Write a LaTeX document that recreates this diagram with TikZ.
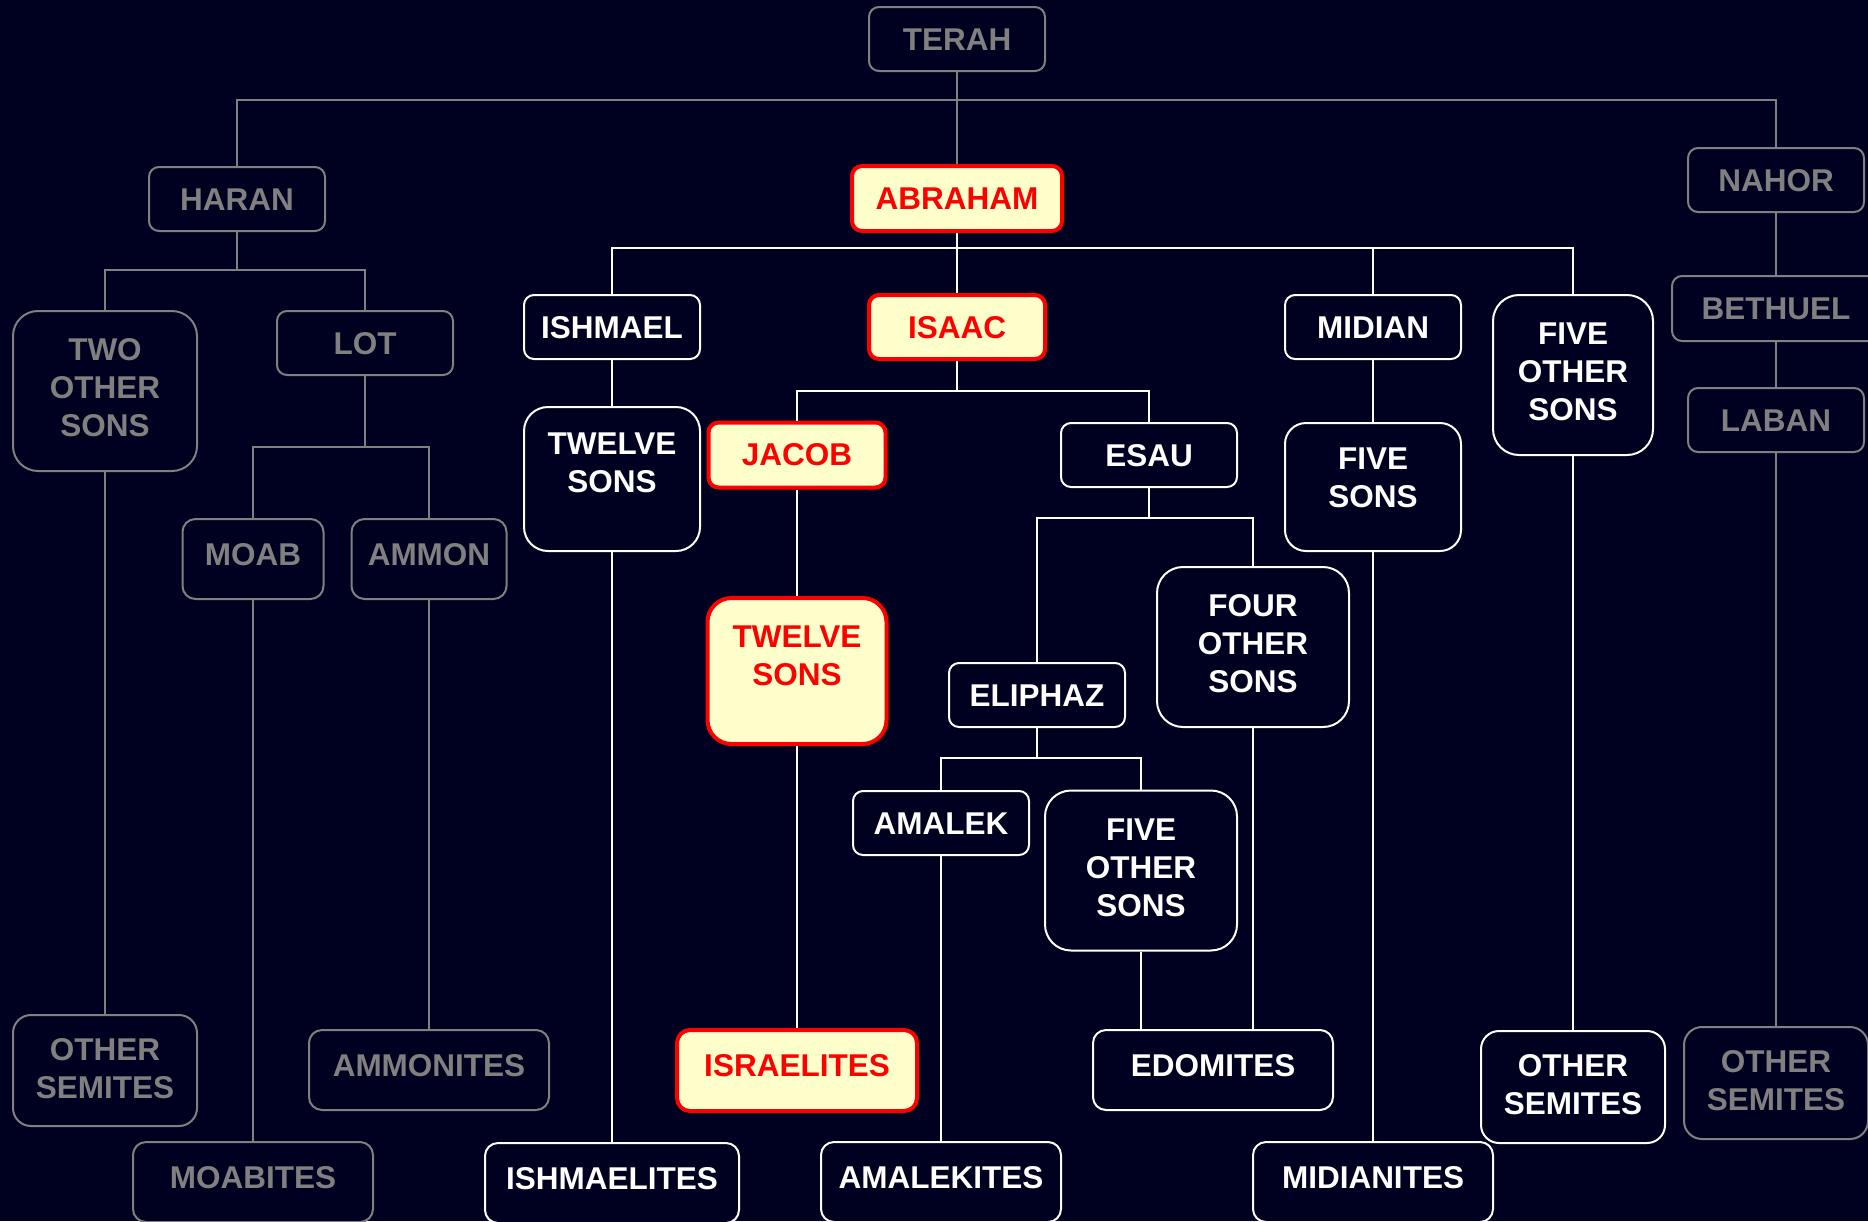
\documentclass[tikz,border=0pt]{standalone}
\usepackage{fontspec}
\setmainfont{Liberation Sans}
\usepackage{tikz}

\definecolor{navy}{RGB}{0,0,32}
\definecolor{famgray}{RGB}{128,128,128}
\definecolor{cream}{RGB}{255,255,204}

\begin{document}
\begin{tikzpicture}[x=1pt, y=-1pt,
        person/.style={rectangle, inner sep=0pt, align=center,
          font=\fontsize{31.5}{38}\selectfont\bfseries},
        boxsize/.style n args={4}{text width=#1, text height=#2, text depth=#3, rounded corners=#4},
        fadedbox/.style={person, draw=famgray, fill=navy, text=famgray, line width=2pt},
        kinbox/.style={person, draw=white, fill=navy, text=white, line width=2pt},
        chosenbox/.style={person, draw=red, fill=cream, text=red, line width=4pt},
        fadedline/.style={draw=famgray, line width=2pt},
        kinline/.style={draw=white, line width=2pt}]
      \useasboundingbox (0,0) rectangle (1868,1221);
      \fill[navy] (0,0) rectangle (1868,1221);

      % Terah and his sons
      \node[fadedbox,boxsize={176pt}{43pt}{21pt}{10pt}]  (terah)  at (957,39)   {TERAH};
      \node[fadedbox,boxsize={176pt}{43pt}{21pt}{10pt}]  (haran)  at (237,199)  {HARAN};
      \node[chosenbox,boxsize={210pt}{43pt}{22pt}{10pt}] (abraham) at (957,198.5) {ABRAHAM};
      \node[fadedbox,boxsize={176pt}{43pt}{21pt}{10pt}]  (nahor)  at (1776,180) {NAHOR};

      % line of Haran
      \node[fadedbox,boxsize={184pt}{49pt}{111pt}{25pt}] (twoother) at (105,391) {TWO\\OTHER\\SONS};
      \node[fadedbox,boxsize={176pt}{43pt}{21pt}{10pt}]  (lot)    at (365,343)  {LOT};
      \node[fadedbox,boxsize={141pt}{46pt}{34pt}{13pt}]  (moab)   at (253,559)  {MOAB};
      \node[fadedbox,boxsize={155pt}{46pt}{34pt}{13pt}]  (ammon)  at (429,559)  {AMMON};
      \node[fadedbox,boxsize={184pt}{45pt}{66pt}{18pt}]  (semitesL) at (105,1070.5) {OTHER\\SEMITES};
      \node[fadedbox,boxsize={240pt}{46pt}{34pt}{13pt}]  (ammonites) at (429,1070) {AMMONITES};
      \node[fadedbox,boxsize={240pt}{46pt}{34pt}{13pt}]  (moabites)  at (253,1182) {MOABITES};

      % line of Nahor
      \node[fadedbox,boxsize={208pt}{43pt}{22pt}{10pt}]  (bethuel) at (1776,308.5) {BETHUEL};
      \node[fadedbox,boxsize={176pt}{43pt}{21pt}{10pt}]  (laban)   at (1776,420)   {LABAN};
      \node[fadedbox,boxsize={184pt}{45pt}{67pt}{18pt}]  (semitesR) at (1776,1083) {OTHER\\SEMITES};

      % line of Abraham
      \node[kinbox,boxsize={176pt}{43pt}{21pt}{10pt}]    (ishmael) at (612,327)  {ISHMAEL};
      \node[chosenbox,boxsize={176pt}{43pt}{21pt}{10pt}] (isaac)   at (957,327)  {ISAAC};
      \node[kinbox,boxsize={176pt}{43pt}{21pt}{10pt}]    (midian)  at (1373,327) {MIDIAN};
      \node[kinbox,boxsize={160pt}{49pt}{111pt}{26pt}]   (fiveotherA) at (1573,375) {FIVE\\OTHER\\SONS};
      \node[kinbox,boxsize={176pt}{47pt}{97pt}{24pt}]    (twelveI) at (612,479)  {TWELVE\\SONS};
      \node[kinbox,boxsize={176pt}{46pt}{82pt}{21pt}]    (fivesons) at (1373,487) {FIVE\\SONS};
      \node[kinbox,boxsize={254pt}{46pt}{34pt}{13pt}]    (ishmaelites) at (612,1183) {ISHMAELITES};
      \node[kinbox,boxsize={240pt}{46pt}{34pt}{13pt}]    (midianites)  at (1373,1182) {MIDIANITES};
      \node[kinbox,boxsize={184pt}{45pt}{67pt}{18pt}]    (semitesM) at (1573,1087) {OTHER\\SEMITES};

      % line of Isaac
      \node[chosenbox,boxsize={177pt}{43pt}{22pt}{10pt}] (jacob)   at (797,455)  {JACOB};
      \node[kinbox,boxsize={176pt}{43pt}{21pt}{10pt}]    (esau)    at (1149,455) {ESAU};
      \node[chosenbox,boxsize={179pt}{49.5pt}{96.5pt}{24pt}] (twelveJ) at (797,671) {TWELVE\\SONS};
      \node[chosenbox,boxsize={240pt}{46pt}{35pt}{13pt}] (israelites) at (797,1070.5) {ISRAELITES};

      % line of Esau
      \node[kinbox,boxsize={176pt}{43pt}{21pt}{10pt}]    (eliphaz) at (1037,695) {ELIPHAZ};
      \node[kinbox,boxsize={192pt}{49pt}{111pt}{26pt}]   (fourother) at (1253,647) {FOUR\\OTHER\\SONS};
      \node[kinbox,boxsize={176pt}{43pt}{21pt}{10pt}]    (amalek)  at (941,823)  {AMALEK};
      \node[kinbox,boxsize={192pt}{49.5pt}{110.5pt}{26pt}] (fiveotherE) at (1141,870.5) {FIVE\\OTHER\\SONS};
      \node[kinbox,boxsize={240pt}{46pt}{34pt}{13pt}]    (edomites)   at (1213,1070) {EDOMITES};
      \node[kinbox,boxsize={240pt}{46pt}{34pt}{13pt}]    (amalekites) at (941,1182)  {AMALEKITES};

      % branch points
      \coordinate (terahbar)   at (957,100);
      \coordinate (haranbar)   at (237,270);
      \coordinate (lotbar)     at (365,447);
      \coordinate (abrbar)     at (957,248);
      \coordinate (isaacbar)   at (957,391);
      \coordinate (esaubar)    at (1149,518);
      \coordinate (eliphazbar) at (1037,758);

      \draw[fadedline] (haran) |- (terahbar) -| (nahor);
      \path[fadedline] (terah) edge (abraham)
                (haran) edge (haranbar)
                (lot) edge (lotbar)
                (twoother) edge (semitesL)
                (moab) edge (moabites)
                (ammon) edge (ammonites)
                (nahor) edge (bethuel)
                (bethuel) edge (laban)
                (laban) edge (semitesR);
      \draw[fadedline] (twoother) |- (haranbar) -| (lot);
      \draw[fadedline] (moab) |- (lotbar) -| (ammon);

      \draw[kinline] (ishmael) |- (abrbar) -| (fiveotherA);
      \draw[kinline] (jacob) |- (isaacbar) -| (esau);
      \draw[kinline] (eliphaz) |- (esaubar) -| (fourother);
      \draw[kinline] (amalek) |- (eliphazbar) -| (fiveotherE);
      \path[kinline] (abraham) edge (isaac)
                (midian) edge (midian |- abrbar)
                (isaac) edge (isaacbar)
                (esau) edge (esaubar)
                (eliphaz) edge (eliphazbar)
                (ishmael) edge (twelveI)
                (twelveI) edge (ishmaelites)
                (jacob) edge (twelveJ)
                (twelveJ) edge (israelites)
                (midian) edge (fivesons)
                (fivesons) edge (midianites)
                (fiveotherA) edge (semitesM)
                (amalek) edge (amalekites)
                (fiveotherE) edge (fiveotherE |- edomites.north)
                (fourother) edge (fourother |- edomites.north);
\end{tikzpicture}
\end{document}
